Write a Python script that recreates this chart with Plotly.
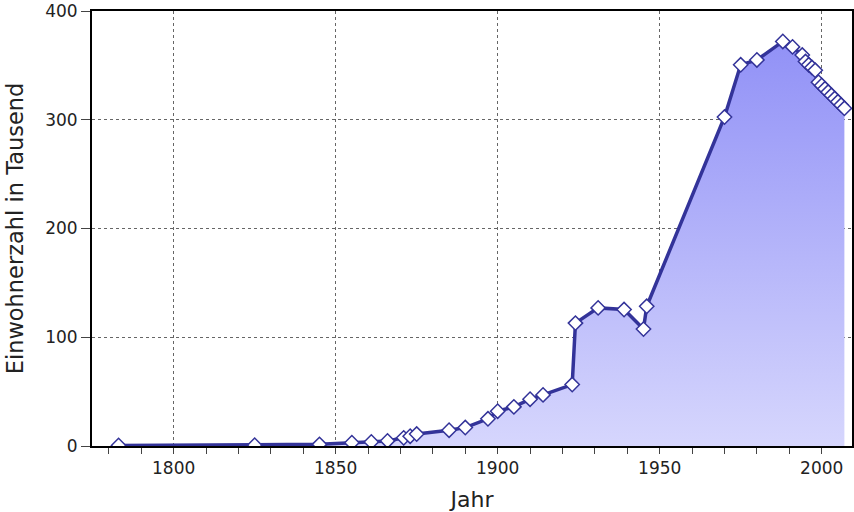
import plotly.graph_objects as go

years = [1783, 1825, 1845, 1855, 1861, 1866, 1871, 1873, 1875, 1885, 1890,
         1897, 1900, 1905, 1910, 1914, 1923, 1924, 1931, 1939, 1945, 1946,
         1970, 1975, 1980, 1988, 1991, 1994, 1995, 1996, 1997, 1998, 1999,
         2000, 2001, 2002, 2003, 2004, 2005, 2006, 2007]
einwohner = [0.5, 0.8, 1.5, 3.0, 3.7, 4.7, 7.5, 9.0, 11.0, 14.5, 17.0,
             25.0, 32.0, 36.0, 43.0, 47.0, 56.5, 113.0, 127.0, 125.5, 107.5, 128.5,
             302.5, 350.5, 355.0, 372.0, 367.0, 359.5, 353.5, 350.5, 348.0, 345.5, 334.5,
             331.5, 328.5, 325.5, 322.5, 319.5, 316.5, 313.5, 310.5]

x_ticks = [1800, 1850, 1900, 1950, 2000]
y_ticks = [0, 100, 200, 300, 400]

line_col = "#333399"

fig = go.Figure()
fig.add_trace(go.Scatter(
    x=years, y=einwohner, mode="lines+markers",
    line=dict(color=line_col, width=3.5),
    marker=dict(symbol="diamond", size=11, color="white",
                line=dict(color=line_col, width=1.5)),
    fill="tozeroy",
    fillgradient=dict(type="vertical", start=0, stop=400,
                      colorscale=[[0, "#d6d6fd"], [1, "#8c8cf6"]]),
    showlegend=False, hoverinfo="x+y",
))

fig.update_layout(
    width=854, height=512,
    margin=dict(l=92, r=2, t=11, b=66),
    paper_bgcolor="white", plot_bgcolor="white",
    font=dict(family="DejaVu Sans", color="#222222"),
)
fig.update_xaxes(
    range=[1774.8, 2009.35], tickvals=x_ticks, ticktext=[str(v) for v in x_ticks],
    ticks="outside", ticklen=6, tickwidth=1, tickcolor="#444",
    minor=dict(dtick=10, tick0=1800, ticks="outside", ticklen=6, tickcolor="#444", showgrid=False),
    showgrid=True, gridcolor="#666", griddash="dot", gridwidth=1,
    showline=True, linecolor="black", linewidth=2, mirror=True,
    zeroline=False, automargin=False,
    tickfont=dict(size=17),
    title=dict(text="Jahr", font=dict(size=22)),
)
fig.update_yaxes(
    range=[0, 400], tickvals=y_ticks,
    ticks="outside", ticklen=9, tickwidth=1, tickcolor="#444",
    showgrid=True, gridcolor="#666", griddash="dot", gridwidth=1,
    showline=True, linecolor="black", linewidth=2, mirror=True,
    zeroline=False, automargin=False,
    tickfont=dict(size=17),
    title=dict(text="Einwohnerzahl in Tausend", font=dict(size=22.5)),
)

fig.write_html("out.html", config={"displayModeBar": False},
               post_script="document.body.style.margin='0';document.body.style.padding='0';")
